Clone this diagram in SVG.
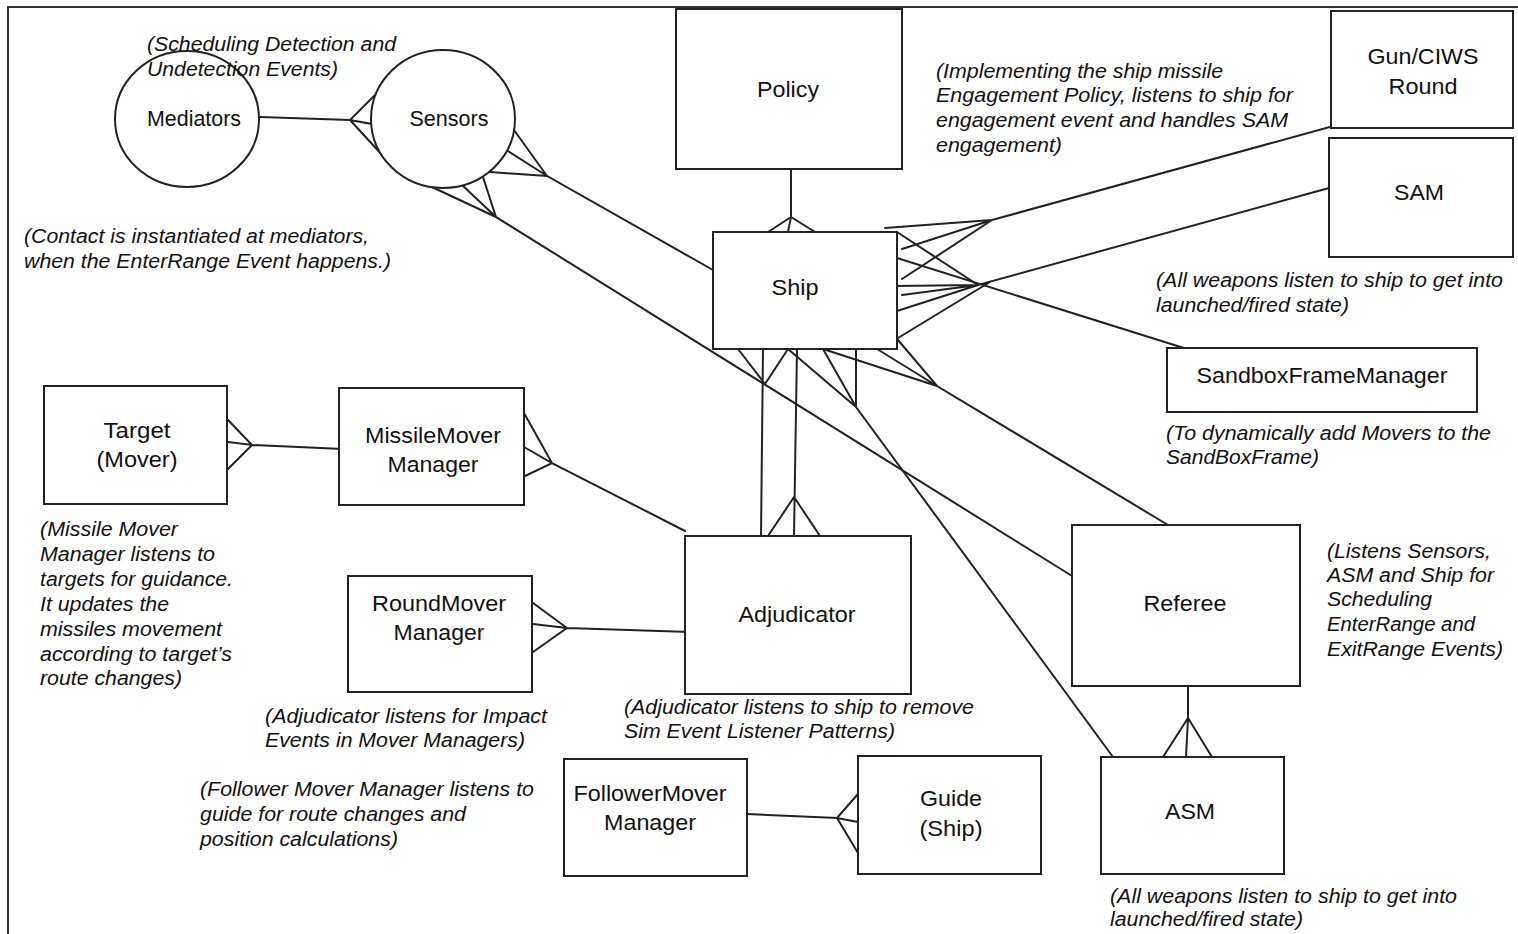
<svg xmlns="http://www.w3.org/2000/svg" width="1518" height="934" viewBox="0 0 1518 934">
<defs>
<style>
.box{fill:#fff;stroke:#222;stroke-width:2}
.ln{fill:none;stroke:#222;stroke-width:2;stroke-linecap:round}
.lbl{font-family:"Liberation Sans",Arial,sans-serif;font-size:22px;fill:#111;text-anchor:middle}
.note{font-family:"Liberation Sans",Arial,sans-serif;font-size:20px;font-style:italic;fill:#111}
</style>
</defs>
<rect width="1518" height="934" fill="#fff"/>
<path d="M8,934 V7 H1518" fill="none" stroke="#333" stroke-width="2"/>

<g id="connectors">
<!-- Mediators - Sensors -->
<path class="ln" d="M260,117 L350,120 M378,92 L350,120 L372,124 M350,120 L384,157"/>
<!-- Sensors - Ship -->
<path class="ln" d="M514,130 L547,176 L508,151 M490,172 L547,176 L713,270"/>
<!-- Sensors - Referee -->
<path class="ln" d="M432,187 L496,217 L462,185 M483,177 L496,217 L1072,576"/>
<!-- Policy - Ship -->
<path class="ln" d="M791,169 L791,217 L768,232 M791,217 L788,232 M791,217 L815,232"/>
<!-- Gun/CIWS - Ship -->
<path class="ln" d="M1337,125 L992,220 L885,228 M992,220 L902,249 M992,220 L902,279"/>
<!-- SAM - Ship -->
<path class="ln" d="M1329,188 L978,285 L897,232 M978,285 L895,286 M978,285 L902,295 M978,285 L897,311 M898,338 L990,282"/>
<!-- Ship - SandboxFrameManager -->
<path class="ln" d="M897,258 L1187,349"/>
<!-- Ship - Adjudicator 1 -->
<path class="ln" d="M763,349 L761,536 M738,349 L765,384 L788,349"/>
<!-- Ship - Adjudicator 2 -->
<path class="ln" d="M797,349 L794,536 M768,536 L794,497 L820,536"/>
<!-- Ship - ASM -->
<path class="ln" d="M788,349 L856,407 L823,349 M856,349 L856,407 L1113,757"/>
<!-- Ship - Referee -->
<path class="ln" d="M823,349 L937,386 L877,349 M898,340 L937,386 L1168,525"/>
<!-- Target - MissileMover -->
<path class="ln" d="M228,420 L252,445 L228,442 M228,469 L252,445 L343,449"/>
<!-- MissileMover - Adjudicator -->
<path class="ln" d="M524,413 L552,463 L524,447 M525,476 L552,463 L685,531"/>
<!-- RoundMover - Adjudicator -->
<path class="ln" d="M533,603 L567,628 L533,624 M533,652 L567,628 L690,632"/>
<!-- Referee - ASM -->
<path class="ln" d="M1188,686 L1188,718 L1163,757 M1188,718 L1186,757 M1188,718 L1212,757"/>
<!-- FollowerMover - Guide -->
<path class="ln" d="M747,814 L837,818 L858,794 M837,818 L858,822 M837,818 L858,853"/>
</g>

<g id="mediators"><ellipse class="box" cx="187" cy="119" rx="72" ry="68"/><text class="lbl" x="194" y="126" textLength="94" lengthAdjust="spacingAndGlyphs">Mediators</text></g>
<g id="sensors"><ellipse class="box" cx="443" cy="119" rx="72" ry="69"/><text class="lbl" x="449" y="126" textLength="79" lengthAdjust="spacingAndGlyphs">Sensors</text></g>
<g id="policy"><rect class="box" x="676" y="9" width="226" height="160"/><text class="lbl" x="788" y="97" textLength="62" lengthAdjust="spacingAndGlyphs">Policy</text></g>
<g id="gun"><rect class="box" x="1331" y="11" width="182" height="117"/><text class="lbl" x="1423" y="64" textLength="111" lengthAdjust="spacingAndGlyphs">Gun/CIWS</text><text class="lbl" x="1423" y="94" textLength="69" lengthAdjust="spacingAndGlyphs">Round</text></g>
<g id="sam"><rect class="box" x="1329" y="138" width="184" height="119"/><text class="lbl" x="1419" y="200" textLength="50" lengthAdjust="spacingAndGlyphs">SAM</text></g>
<g id="ship"><rect class="box" x="713" y="232" width="184" height="117"/><text class="lbl" x="795" y="295" textLength="47" lengthAdjust="spacingAndGlyphs">Ship</text></g>
<g id="sfm"><rect class="box" x="1167" y="348" width="310" height="64"/><text class="lbl" x="1322" y="383" textLength="251" lengthAdjust="spacingAndGlyphs">SandboxFrameManager</text></g>
<g id="target"><rect class="box" x="44" y="386" width="183" height="118"/><text class="lbl" x="137" y="438" textLength="67" lengthAdjust="spacingAndGlyphs">Target</text><text class="lbl" x="137" y="467" textLength="81" lengthAdjust="spacingAndGlyphs">(Mover)</text></g>
<g id="missilemover"><rect class="box" x="339" y="388" width="185" height="117"/><text class="lbl" x="433" y="443" textLength="136" lengthAdjust="spacingAndGlyphs">MissileMover</text><text class="lbl" x="433" y="472" textLength="91" lengthAdjust="spacingAndGlyphs">Manager</text></g>
<g id="roundmover"><rect class="box" x="348" y="576" width="184" height="116"/><text class="lbl" x="439" y="611" textLength="134" lengthAdjust="spacingAndGlyphs">RoundMover</text><text class="lbl" x="439" y="640" textLength="91" lengthAdjust="spacingAndGlyphs">Manager</text></g>
<g id="adjudicator"><rect class="box" x="685" y="536" width="226" height="158"/><text class="lbl" x="797" y="622" textLength="117" lengthAdjust="spacingAndGlyphs">Adjudicator</text></g>
<g id="referee"><rect class="box" x="1072" y="525" width="228" height="161"/><text class="lbl" x="1185" y="611" textLength="83" lengthAdjust="spacingAndGlyphs">Referee</text></g>
<g id="asm"><rect class="box" x="1101" y="757" width="183" height="117"/><text class="lbl" x="1190" y="819" textLength="50" lengthAdjust="spacingAndGlyphs">ASM</text></g>
<g id="followermover"><rect class="box" x="564" y="759" width="183" height="117"/><text class="lbl" x="650" y="801" textLength="153" lengthAdjust="spacingAndGlyphs">FollowerMover</text><text class="lbl" x="650" y="830" textLength="92" lengthAdjust="spacingAndGlyphs">Manager</text></g>
<g id="guide"><rect class="box" x="858" y="756" width="183" height="118"/><text class="lbl" x="951" y="806" textLength="62" lengthAdjust="spacingAndGlyphs">Guide</text><text class="lbl" x="951" y="836" textLength="63" lengthAdjust="spacingAndGlyphs">(Ship)</text></g>

<g id="notes">
<text class="note" x="147" y="51" textLength="249" lengthAdjust="spacingAndGlyphs">(Scheduling Detection and</text>
<text class="note" x="147" y="76" textLength="191" lengthAdjust="spacingAndGlyphs">Undetection Events)</text>
<text class="note" x="24" y="243" textLength="345" lengthAdjust="spacingAndGlyphs">(Contact is instantiated at mediators,</text>
<text class="note" x="24" y="268" textLength="367" lengthAdjust="spacingAndGlyphs">when the EnterRange Event happens.)</text>
<text class="note" x="936" y="78" textLength="287" lengthAdjust="spacingAndGlyphs">(Implementing the ship missile</text>
<text class="note" x="936" y="102" textLength="357" lengthAdjust="spacingAndGlyphs">Engagement Policy, listens to ship for</text>
<text class="note" x="936" y="127" textLength="352" lengthAdjust="spacingAndGlyphs">engagement event and handles SAM</text>
<text class="note" x="936" y="152" textLength="126" lengthAdjust="spacingAndGlyphs">engagement)</text>
<text class="note" x="1156" y="287" textLength="347" lengthAdjust="spacingAndGlyphs">(All weapons listen to ship to get into</text>
<text class="note" x="1156" y="312" textLength="193" lengthAdjust="spacingAndGlyphs">launched/fired state)</text>
<text class="note" x="1166" y="440" textLength="325" lengthAdjust="spacingAndGlyphs">(To dynamically add Movers to the</text>
<text class="note" x="1166" y="464" textLength="153" lengthAdjust="spacingAndGlyphs">SandBoxFrame)</text>
<text class="note" x="40" y="536" textLength="138" lengthAdjust="spacingAndGlyphs">(Missile Mover</text>
<text class="note" x="40" y="561" textLength="175" lengthAdjust="spacingAndGlyphs">Manager listens to</text>
<text class="note" x="40" y="586" textLength="193" lengthAdjust="spacingAndGlyphs">targets for guidance.</text>
<text class="note" x="40" y="611" textLength="129" lengthAdjust="spacingAndGlyphs">It updates the</text>
<text class="note" x="40" y="636" textLength="182" lengthAdjust="spacingAndGlyphs">missiles movement</text>
<text class="note" x="40" y="661" textLength="192" lengthAdjust="spacingAndGlyphs">according to target’s</text>
<text class="note" x="40" y="685" textLength="142" lengthAdjust="spacingAndGlyphs">route changes)</text>
<text class="note" x="1327" y="558" textLength="164" lengthAdjust="spacingAndGlyphs">(Listens Sensors,</text>
<text class="note" x="1327" y="582" textLength="167" lengthAdjust="spacingAndGlyphs">ASM and Ship for</text>
<text class="note" x="1327" y="606" textLength="105" lengthAdjust="spacingAndGlyphs">Scheduling</text>
<text class="note" x="1327" y="631" textLength="148" lengthAdjust="spacingAndGlyphs">EnterRange and</text>
<text class="note" x="1327" y="656" textLength="176" lengthAdjust="spacingAndGlyphs">ExitRange Events)</text>
<text class="note" x="265" y="723" textLength="282" lengthAdjust="spacingAndGlyphs">(Adjudicator listens for Impact</text>
<text class="note" x="265" y="747" textLength="260" lengthAdjust="spacingAndGlyphs">Events in Mover Managers)</text>
<text class="note" x="624" y="714" textLength="350" lengthAdjust="spacingAndGlyphs">(Adjudicator listens to ship to remove</text>
<text class="note" x="624" y="738" textLength="271" lengthAdjust="spacingAndGlyphs">Sim Event Listener Patterns)</text>
<text class="note" x="200" y="796" textLength="334" lengthAdjust="spacingAndGlyphs">(Follower Mover Manager listens to</text>
<text class="note" x="200" y="821" textLength="266" lengthAdjust="spacingAndGlyphs">guide for route changes and</text>
<text class="note" x="200" y="846" textLength="198" lengthAdjust="spacingAndGlyphs">position calculations)</text>
<text class="note" x="1110" y="903" textLength="347" lengthAdjust="spacingAndGlyphs">(All weapons listen to ship to get into</text>
<text class="note" x="1110" y="926" textLength="193" lengthAdjust="spacingAndGlyphs">launched/fired state)</text>
</g>
</svg>
